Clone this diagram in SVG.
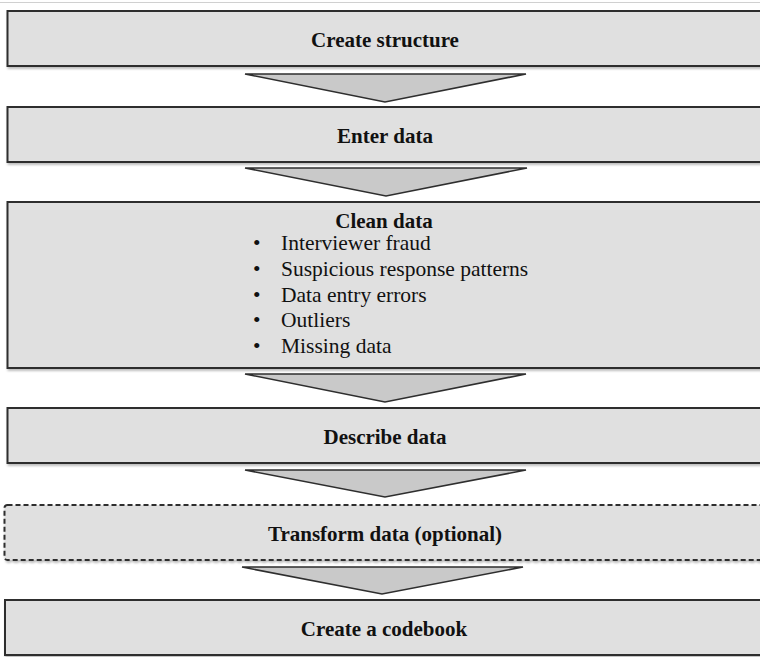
<svg xmlns="http://www.w3.org/2000/svg" width="760" height="657" viewBox="0 0 760 657">
  <defs>
    <filter id="shadow" x="-5%" y="-20%" width="110%" height="150%">
      <feDropShadow dx="1" dy="2" stdDeviation="1.2" flood-color="#000" flood-opacity="0.25"/>
    </filter>
    <style>
      .box { fill: #e0e0e0; stroke: #2e2e2e; stroke-width: 2; filter: url(#shadow); }
      .dashed { stroke-dasharray: 5 3; }
      .arrow { fill: #c9c9c9; stroke: #2e2e2e; stroke-width: 1.6; stroke-linejoin: miter; }
      .title { font-family: "Liberation Serif", "Times New Roman", serif; font-weight: bold; font-size: 21px; fill: #111; text-anchor: middle; }
      .item { font-family: "Liberation Serif", "Times New Roman", serif; font-size: 21.5px; fill: #111; }
    </style>
  </defs>

  <rect width="760" height="657" fill="#ffffff"/>
  <line x1="0" y1="2.5" x2="760" y2="2.5" stroke="#d0d0d0" stroke-width="1"/>

  <!-- connectors: wide downward chevrons between the steps -->
  <g id="connectors">
    <polygon class="arrow" points="245,74 526,74 385,102"/>
    <polygon class="arrow" points="245,168 527,168 386,196"/>
    <polygon class="arrow" points="245,374 526,374 385,402"/>
    <polygon class="arrow" points="245,470 526,470 385,497"/>
    <polygon class="arrow" points="242,567 523,567 382,594"/>
  </g>

  <g id="create-structure">
    <rect class="box" x="7.5" y="11" width="770" height="55"/>
    <text class="title" x="385" y="47">Create structure</text>
  </g>

  <g id="enter-data">
    <rect class="box" x="7.5" y="107" width="770" height="55"/>
    <text class="title" x="385" y="143">Enter data</text>
  </g>

  <g id="clean-data">
    <rect class="box" x="7.5" y="202" width="770" height="166"/>
    <text class="title" x="384" y="228">Clean data</text>
    <g class="item">
      <text x="253" y="250">•</text><text x="281" y="250">Interviewer fraud</text>
      <text x="253" y="276">•</text><text x="281" y="276">Suspicious response patterns</text>
      <text x="253" y="301.5">•</text><text x="281" y="301.5">Data entry errors</text>
      <text x="253" y="327">•</text><text x="281" y="327">Outliers</text>
      <text x="253" y="353">•</text><text x="281" y="353">Missing data</text>
    </g>
  </g>

  <g id="describe-data">
    <rect class="box" x="7.5" y="408" width="770" height="55"/>
    <text class="title" x="385" y="444">Describe data</text>
  </g>

  <g id="transform-data">
    <rect class="box dashed" x="4.5" y="505" width="770" height="55" rx="3"/>
    <text class="title" x="385" y="541">Transform data (optional)</text>
  </g>

  <g id="create-codebook">
    <rect class="box" x="5" y="600" width="770" height="55"/>
    <text class="title" x="384" y="636">Create a codebook</text>
  </g>
</svg>
